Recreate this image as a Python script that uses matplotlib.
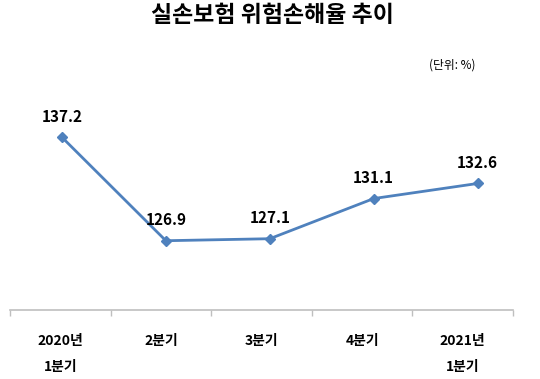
import numpy as np
import matplotlib
matplotlib.use("Agg")
import matplotlib.pyplot as plt

plt.rcParams['font.family'] = ['Noto Sans CJK KR', 'DejaVu Sans']

# 데이터
quarters = ['2020년\n1분기', '2분기', '3분기', '4분기', '2021년\n1분기']
loss_ratio = [137.2, 126.9, 127.1, 131.1, 132.6]

fig = plt.figure(figsize=(5.4, 3.79), dpi=100)
ax = fig.add_axes([0.0185, 0.182, 0.9315, 0.53])

x = np.arange(len(quarters))
ax.plot(x, loss_ratio, color='#4F81BD', lw=2, marker='D', ms=5,
        markerfacecolor='#4F81BD', markeredgecolor='#4F81BD')

for xi, v in zip(x, loss_ratio):
    ax.annotate(f'{v:.1f}', (xi, v), xytext=(0, 9), textcoords='offset points',
                ha='center', va='bottom', fontsize=11, fontweight='bold')

ax.set_ylim(120, 140)
ax.set_xlim(-0.5, 4.34)

# 축 눈금: 구간 경계에 눈금선, 중앙에 라벨
edges = np.linspace(-0.5, 4.34, len(quarters) + 1)
ax.set_xticks(edges)
ax.set_xticklabels([])
ax.tick_params(axis='x', which='major', direction='out', length=4.5,
               color='#BFBFBF', width=1)
ax.set_xticks((edges[:-1] + edges[1:]) / 2, minor=True)
ax.set_xticklabels(quarters, minor=True, fontsize=10, fontweight='bold',
                   linespacing=2.1)
ax.tick_params(axis='x', which='minor', length=0, pad=17)

ax.set_yticks([])
for s in ['top', 'right', 'left']:
    ax.spines[s].set_visible(False)
ax.spines['bottom'].set_color('#BFBFBF')
ax.spines['bottom'].set_linewidth(1.2)

fig.text(0.505, 0.96, '실손보험 위험손해율 추이', ha='center', va='center',
         fontsize=16.5, fontweight='bold')
fig.text(0.837, 0.828, '(단위: %)', ha='center', va='center', fontsize=8.5)

fig.savefig('out.png', dpi=100)
